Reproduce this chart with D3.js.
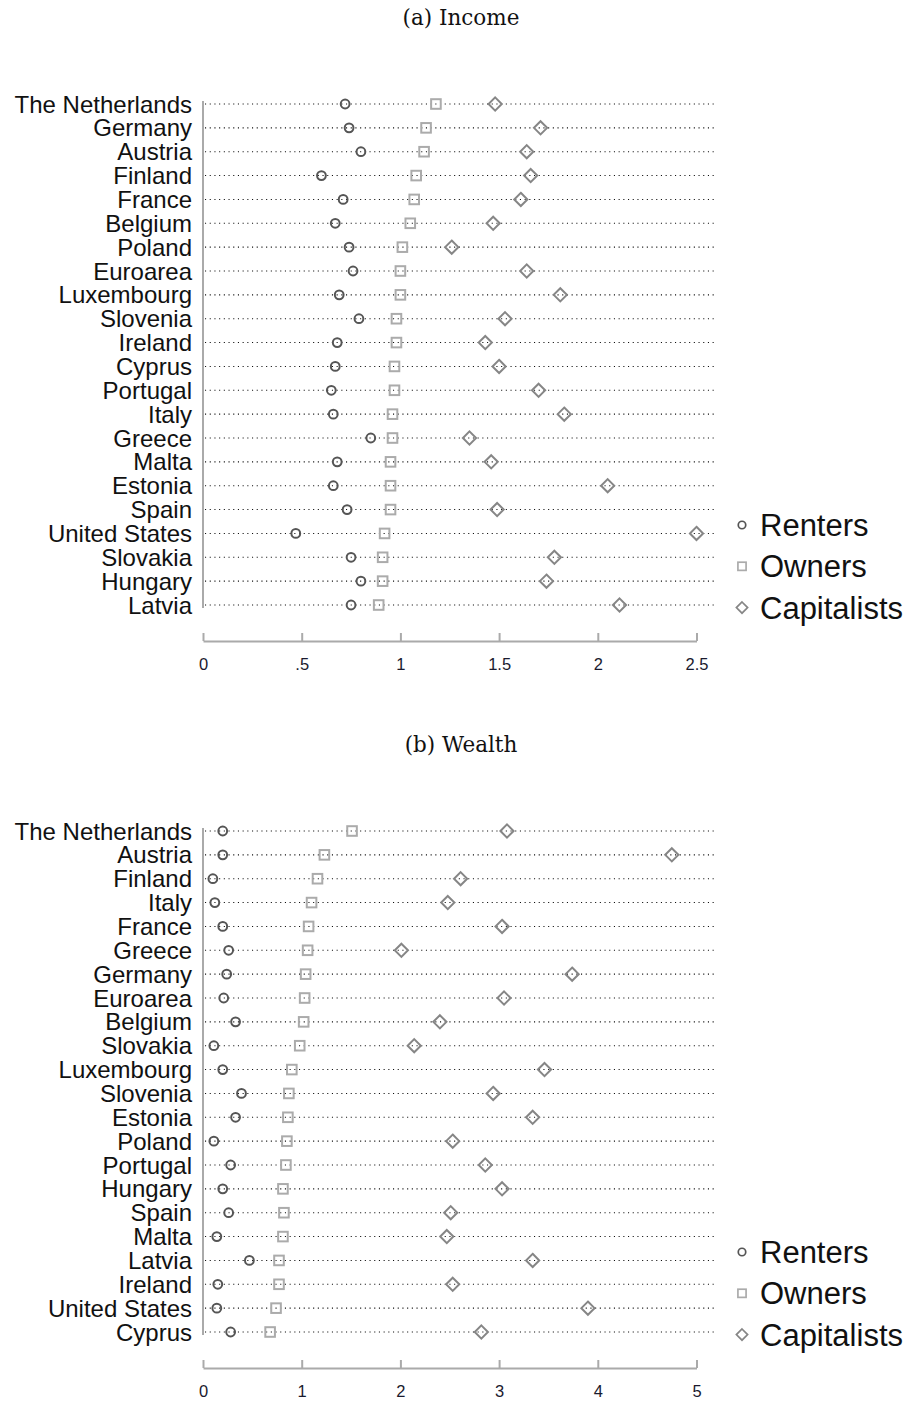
<!DOCTYPE html>
<html>
<head>
<meta charset="utf-8">
<script src="https://cdn.jsdelivr.net/npm/d3@7"></script>
<style>
  html, body { margin: 0; padding: 0; background: #fff; }
  svg { display: block; }
</style>
</head>
<body>
<svg id="chart" width="911" height="1402"></svg>
<script>
// ---------- DATA ----------
const seriesNames = ["Renters", "Owners", "Capitalists"];

const incomeCountries = ["The Netherlands","Germany","Austria","Finland","France","Belgium","Poland","Euroarea","Luxembourg","Slovenia","Ireland","Cyprus","Portugal","Italy","Greece","Malta","Estonia","Spain","United States","Slovakia","Hungary","Latvia"];
const incomeRenters     = [0.72,0.74,0.80,0.60,0.71,0.67,0.74,0.76,0.69,0.79,0.68,0.67,0.65,0.66,0.85,0.68,0.66,0.73,0.47,0.75,0.80,0.75];
const incomeOwners      = [1.18,1.13,1.12,1.08,1.07,1.05,1.01,1.00,1.00,0.98,0.98,0.97,0.97,0.96,0.96,0.95,0.95,0.95,0.92,0.91,0.91,0.89];
const incomeCapitalists = [1.48,1.71,1.64,1.66,1.61,1.47,1.26,1.64,1.81,1.53,1.43,1.50,1.70,1.83,1.35,1.46,2.05,1.49,2.50,1.78,1.74,2.11];
const incomeTicks  = [0, 0.5, 1, 1.5, 2, 2.5];
const incomeTickLabels = ["0", ".5", "1", "1.5", "2", "2.5"];

const wealthCountries = ["The Netherlands","Austria","Finland","Italy","France","Greece","Germany","Euroarea","Belgium","Slovakia","Luxembourg","Slovenia","Estonia","Poland","Portugal","Hungary","Spain","Malta","Latvia","Ireland","United States","Cyprus"];
const wealthRenters     = [0.20,0.20,0.10,0.12,0.20,0.26,0.24,0.21,0.33,0.11,0.20,0.39,0.33,0.11,0.28,0.20,0.26,0.14,0.47,0.15,0.14,0.28];
const wealthOwners      = [1.51,1.23,1.16,1.10,1.07,1.06,1.04,1.03,1.02,0.98,0.90,0.87,0.86,0.85,0.84,0.81,0.82,0.81,0.77,0.77,0.74,0.68];
const wealthCapitalists = [3.08,4.75,2.61,2.48,3.03,2.01,3.74,3.05,2.40,2.14,3.46,2.94,3.34,2.53,2.86,3.03,2.51,2.47,3.34,2.53,3.90,2.82];
const wealthTicks  = [0, 1, 2, 3, 4, 5];
const wealthTickLabels = ["0", "1", "2", "3", "4", "5"];

const panelTitles = ["(a) Income", "(b) Wealth"];

// ---------- STYLE ----------
const styles = {
  Renters:     { color: "#555555" },
  Owners:      { color: "#ababab" },
  Capitalists: { color: "#868686" }
};

const svg = d3.select("#chart");

function drawMarker(g, type, cx, cy, scale) {
  const s = scale || 1;
  const col = styles[type].color;
  if (type === "Renters") {
    g.append("circle").attr("cx", cx).attr("cy", cy).attr("r", 4.4 * s)
      .attr("fill", "none").attr("stroke", col).attr("stroke-width", 2 * s);
  } else if (type === "Owners") {
    const h = 4.8 * s;
    g.append("rect").attr("x", cx - h).attr("y", cy - h).attr("width", 2 * h).attr("height", 2 * h)
      .attr("fill", "none").attr("stroke", col).attr("stroke-width", 2 * s);
  } else {
    const h = 6.6 * s;
    g.append("path")
      .attr("d", `M${cx},${cy - h}L${cx + h},${cy}L${cx},${cy + h}L${cx - h},${cy}Z`)
      .attr("fill", "none").attr("stroke", col).attr("stroke-width", 2 * s);
  }
}

function drawPanel(opts) {
  const { offsetY, title, countries, series, domainMax, ticks, tickLabels } = opts;
  const g = svg.append("g").attr("transform", `translate(0,${offsetY})`);

  // title
  g.append("text")
    .attr("x", 461).attr("y", 25)
    .attr("text-anchor", "middle")
    .attr("font-family", "'DejaVu Serif', 'Liberation Serif', serif")
    .attr("font-size", 21.5)
    .attr("fill", "#111")
    .text(title);

  const x = d3.scaleLinear().domain([0, domainMax]).range([203, 696.5]);
  const y = d3.scalePoint().domain(countries).range([104, 605]);

  // dotted row lines
  g.append("g").selectAll("line").data(countries).join("line")
    .attr("x1", x(0) + 2).attr("x2", x(domainMax * 1.04))
    .attr("y1", d => y(d)).attr("y2", d => y(d))
    .attr("stroke", "#111").attr("stroke-width", 1.1)
    .attr("stroke-dasharray", "1.1,3.6");

  // left axis line
  g.append("line")
    .attr("x1", x(0)).attr("x2", x(0))
    .attr("y1", y(countries[0]) - 3).attr("y2", y(countries[countries.length - 1]) + 3)
    .attr("stroke", "#aaaaaa").attr("stroke-width", 2);

  // country labels
  g.append("g").selectAll("text").data(countries).join("text")
    .attr("x", 192).attr("y", d => y(d))
    .attr("dy", "0.36em")
    .attr("text-anchor", "end")
    .attr("font-family", "'Liberation Sans', Arial, sans-serif")
    .attr("font-size", 24)
    .attr("fill", "#111")
    .text(d => d);

  // markers
  const mg = g.append("g");
  series.forEach(s => {
    countries.forEach((c, i) => {
      drawMarker(mg, s.name, x(s.values[i]), y(c), 1);
    });
  });

  // x axis
  const axis = d3.axisBottom(x)
    .tickValues(ticks)
    .tickFormat((d, i) => tickLabels[i])
    .tickSizeInner(-8)
    .tickSizeOuter(0)
    .tickPadding(17);
  const ax = g.append("g").attr("transform", "translate(0,641)").call(axis);
  ax.select(".domain").attr("stroke", "#aaaaaa").attr("stroke-width", 2);
  ax.selectAll(".tick line").attr("stroke", "#aaaaaa").attr("stroke-width", 2);
  ax.selectAll(".tick text")
    .attr("font-family", "'Liberation Sans', Arial, sans-serif")
    .attr("font-size", 16.5)
    .attr("fill", "#1a1a2e");

  // legend
  const lg = g.append("g");
  seriesNames.forEach((name, i) => {
    const cy = 525 + i * 41.3;
    drawMarker(lg, name, 742, cy, 0.85);
    lg.append("text")
      .attr("x", 760).attr("y", cy)
      .attr("dy", "0.36em")
      .attr("font-family", "'Liberation Sans', Arial, sans-serif")
      .attr("font-size", 31)
      .attr("fill", "#111")
      .text(name);
  });
}

drawPanel({
  offsetY: 0,
  title: panelTitles[0],
  countries: incomeCountries,
  series: [
    { name: "Renters", values: incomeRenters },
    { name: "Owners", values: incomeOwners },
    { name: "Capitalists", values: incomeCapitalists }
  ],
  domainMax: 2.5,
  ticks: incomeTicks,
  tickLabels: incomeTickLabels
});

drawPanel({
  offsetY: 727,
  title: panelTitles[1],
  countries: wealthCountries,
  series: [
    { name: "Renters", values: wealthRenters },
    { name: "Owners", values: wealthOwners },
    { name: "Capitalists", values: wealthCapitalists }
  ],
  domainMax: 5,
  ticks: wealthTicks,
  tickLabels: wealthTickLabels
});
</script>
</body>
</html>
